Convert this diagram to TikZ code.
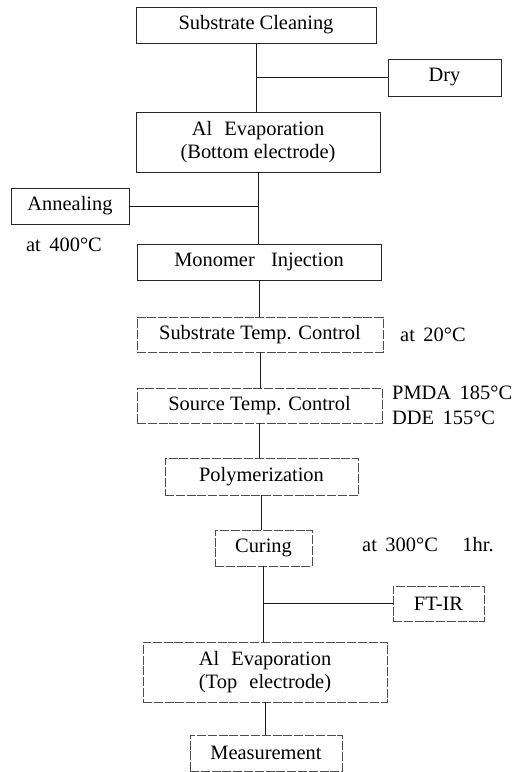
\documentclass[tikz,border=0pt]{standalone}
\usepackage{fontspec}
\setmainfont{Liberation Serif}
\begin{document}
\begin{tikzpicture}[x=1bp,y=-1bp,
  box/.style={draw=black!85, line width=0.7bp, rectangle, inner sep=0pt, align=center,
    font=\fontsize{20.5}{23}\selectfont},
  fbox/.style={box, draw=black!70, dash pattern=on 9bp off 1.8bp},
  lbl/.style={inner sep=0pt, font=\fontsize{20.5}{23}\selectfont},
  conn/.style={line width=0.9bp, black!90}]
\useasboundingbox (0,0) rectangle (527,772);
% boxes
\node[box, minimum width=240bp, minimum height=36bp] (clean) at (256,25) {Substrate Cleaning};
\node[box, minimum width=113bp, minimum height=37bp] (dry) at (444.5,77.5) {Dry};
\node[box, minimum width=244bp, minimum height=60bp] (alb) at (258,142) {Al\hspace{0.6em}Evaporation\\(Bottom electrode)};
\node[box, minimum width=118bp, minimum height=36bp] (anneal) at (70,206) {Annealing};
\node[box, minimum width=244bp, minimum height=36bp] (mono) at (259,262) {Monomer\hspace{0.8em}Injection};
\node[fbox, minimum width=246bp, minimum height=35bp] (subT) at (260,334.5) {Substrate Temp. Control};
\node[fbox, minimum width=245bp, minimum height=35bp] (srcT) at (259.5,405.5) {Source Temp. Control};
\node[fbox, minimum width=193bp, minimum height=37bp] (poly) at (261.5,476.5) {Polymerization};
\node[fbox, minimum width=97bp, minimum height=36bp] (cure) at (263.5,548) {Curing};
\node[fbox, minimum width=91bp, minimum height=35bp] (ftir) at (438.5,603.5) {FT-IR};
\node[fbox, minimum width=244bp, minimum height=60bp] (alt) at (265,672) {Al\hspace{0.6em}Evaporation\\(Top\hspace{0.6em}electrode)};
\node[fbox, minimum width=152bp, minimum height=36bp] (meas) at (266,753) {Measurement};
% labels
\node[lbl] (t400) at (64,245) {at\, 400°C};
\node[lbl, anchor=west] (t20) at (400,334.5) {at\, 20°C};
\node[lbl, anchor=west] (tpmda) at (392,393) {PMDA\, 185°C};
\node[lbl, anchor=west] (tdde) at (392,418) {DDE\, 155°C};
\node[lbl, anchor=west] (t300) at (362,545) {at\, 300°C\hspace{1.2em}1hr.};
% connectors
\draw[conn] (clean.south) -- (clean.south |- alb.north);
\draw[conn] (dry.west) -- (dry.west -| clean.south);
\draw[conn] (alb.south) -- (alb.south |- mono.north);
\draw[conn] (anneal.east) -- (anneal.east -| alb.south);
\draw[conn] (mono.south) -- (mono.south |- subT.north);
\draw[conn] (subT.south) -- (subT.south |- srcT.north);
\draw[conn] (srcT.south) -- (srcT.south |- poly.north);
\draw[conn] (poly.south) -- (poly.south |- cure.north);
\draw[conn] (cure.south) -- (cure.south |- alt.north);
\draw[conn] (ftir.west) -- (ftir.west -| cure.south);
\draw[conn] (alt.south) -- (alt.south |- meas.north);
\end{tikzpicture}
\end{document}
